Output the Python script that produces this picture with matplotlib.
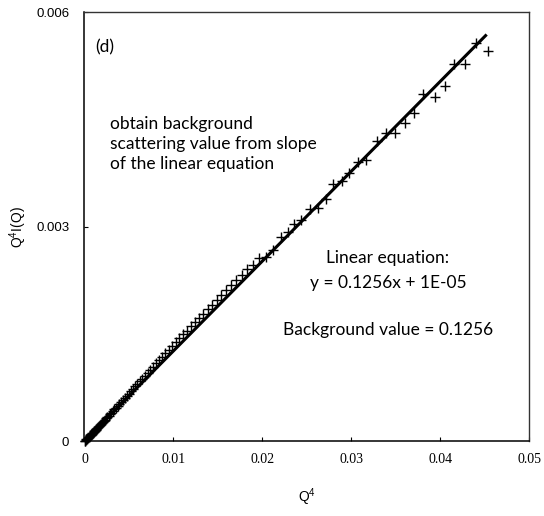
import matplotlib
matplotlib.use("Agg")
import matplotlib.pyplot as plt

plt.rcParams["mathtext.fontset"] = "custom"
plt.rcParams["mathtext.rm"] = "Liberation Sans"

# Porod plot data: Q^4 against Q^4 I(Q)
q4 = [
    0.04530, 0.04399, 0.04275, 0.04155, 0.04051, 0.03935, 0.03807, 0.03702,
    0.03601, 0.03489, 0.03388, 0.03283, 0.03160, 0.03076, 0.02975, 0.02890,
    0.02796, 0.02713, 0.02620, 0.02534, 0.02429, 0.02357, 0.02290, 0.02204,
    0.02121, 0.02039, 0.01964, 0.01890, 0.01828, 0.01767, 0.01708, 0.01650,
    0.01594, 0.01539, 0.01485, 0.01433, 0.01383, 0.01333, 0.01285, 0.01239,
    0.01193, 0.01149, 0.01106, 0.01064, 0.01024, 0.009846, 0.009464, 0.009093,
    0.008733, 0.008385, 0.008046, 0.007718, 0.007400, 0.007092, 0.006794, 0.006505,
    0.006226, 0.005956, 0.005694, 0.005442, 0.005197, 0.004961, 0.004734, 0.004514,
    0.004302, 0.004097, 0.003900, 0.003710, 0.003527, 0.003351, 0.003182, 0.003019,
    0.002862, 0.002712, 0.002567, 0.002429, 0.002296, 0.002169, 0.002047, 0.001930,
    0.001818, 0.001712, 0.001610, 0.001512, 0.001419, 0.001331, 0.001247, 0.001166,
    0.001090, 0.001018, 0.000949, 0.000883, 0.000822, 0.000763, 0.000708, 0.000655,
    0.000520, 0.000400, 0.000300, 0.000210, 0.000140, 0.000080, 0.000040,
]
q4_iq = [
    0.005458, 0.005561, 0.005268, 0.005272, 0.004965, 0.004816, 0.004853, 0.004584,
    0.004453, 0.004304, 0.004304, 0.004197, 0.003935, 0.003908, 0.003746, 0.003642,
    0.003592, 0.003383, 0.003265, 0.003243, 0.003094, 0.003039, 0.002930, 0.002852,
    0.002675, 0.002581, 0.002559, 0.002465, 0.002409, 0.002332, 0.002251, 0.002181,
    0.002114, 0.002044, 0.001978, 0.001912, 0.001850, 0.001786, 0.001727, 0.001665,
    0.001608, 0.001549, 0.001495, 0.001439, 0.001389, 0.001333, 0.001283, 0.001231,
    0.001184, 0.001135, 0.001091, 0.001045, 0.001003, 0.000960, 0.000920, 0.000879,
    0.000842, 0.000804, 0.000769, 0.000734, 0.000701, 0.000668, 0.000637, 0.000607,
    0.000578, 0.000550, 0.000523, 0.000497, 0.000473, 0.000448, 0.000426, 0.000403,
    0.000382, 0.000362, 0.000342, 0.000324, 0.000306, 0.000288, 0.000272, 0.000254,
    0.000239, 0.000225, 0.000212, 0.000198, 0.000186, 0.000174, 0.000163, 0.000153,
    0.000143, 0.000133, 0.000124, 0.000115, 0.000107, 0.000099, 0.000092, 0.000085,
    0.000068, 0.000052, 0.000039, 0.000028, 0.000019, 0.000011, 0.000006,
]

# linear fit
slope = 0.1256
intercept = 1e-05
fit_x = [0.0, 0.04519]
fit_y = [slope * x + intercept for x in fit_x]

x_ticks = [0, 0.01, 0.02, 0.03, 0.04, 0.05]
x_tick_labels = ["0", "0.01", "0.02", "0.03", "0.04", "0.05"]
y_ticks = [0, 0.003, 0.006]
y_tick_labels = ["0", "0.003", "0.006"]

fig = plt.figure(figsize=(5.44, 5.16), dpi=100)
ax = fig.add_axes([0.1553, 0.1444, 0.8180, 0.8323])

ax.plot(q4, q4_iq, linestyle="none", marker="+", markersize=7,
        markeredgewidth=1.0, color="black", clip_on=False, zorder=3)
ax.plot(fit_x, fit_y, color="black", linewidth=2.2, solid_capstyle="butt", zorder=4)

ax.set_xlim(0, 0.05)
ax.set_ylim(0, 0.006)
ax.set_xticks(x_ticks)
ax.set_xticklabels(x_tick_labels, fontfamily="Liberation Serif", fontsize=10)
ax.set_yticks(y_ticks)
ax.set_yticklabels(y_tick_labels, fontfamily="Liberation Sans", fontsize=9.5)
ax.tick_params(axis="x", direction="in", length=3, width=0.8, pad=8)
ax.tick_params(axis="y", direction="in", length=3, width=0.8, pad=11)

for side in ["left", "bottom"]:
    ax.spines[side].set_linewidth(1.1)
for side in ["top", "right"]:
    ax.spines[side].set_linewidth(1.0)
    ax.spines[side].set_color("#333333")

ax.set_xlabel(r"Q$^{\mathregular{4}}$", fontfamily="Liberation Sans", fontsize=10, labelpad=15)
ax.set_ylabel(r"Q$^{\mathregular{4}}$I(Q)", fontfamily="Liberation Sans", fontsize=10, labelpad=5)

note_font = dict(fontfamily="Lato", fontsize=12.5, color="black")
ax.text(0.0012, 0.00550, "(d)", ha="left", va="center", **note_font)
ax.text(0.0029, 0.00416, "obtain background\nscattering value from slope\nof the linear equation",
        ha="left", va="center", linespacing=1.3, **note_font)
ax.text(0.0341, 0.00256, "Linear equation:", ha="center", va="center", **note_font)
ax.text(0.0341, 0.00221, "y = 0.1256x + 1E-05", ha="center", va="center", **note_font)
ax.text(0.0341, 0.00156, "Background value = 0.1256", ha="center", va="center", **note_font)

fig.savefig("out.png", dpi=100)
